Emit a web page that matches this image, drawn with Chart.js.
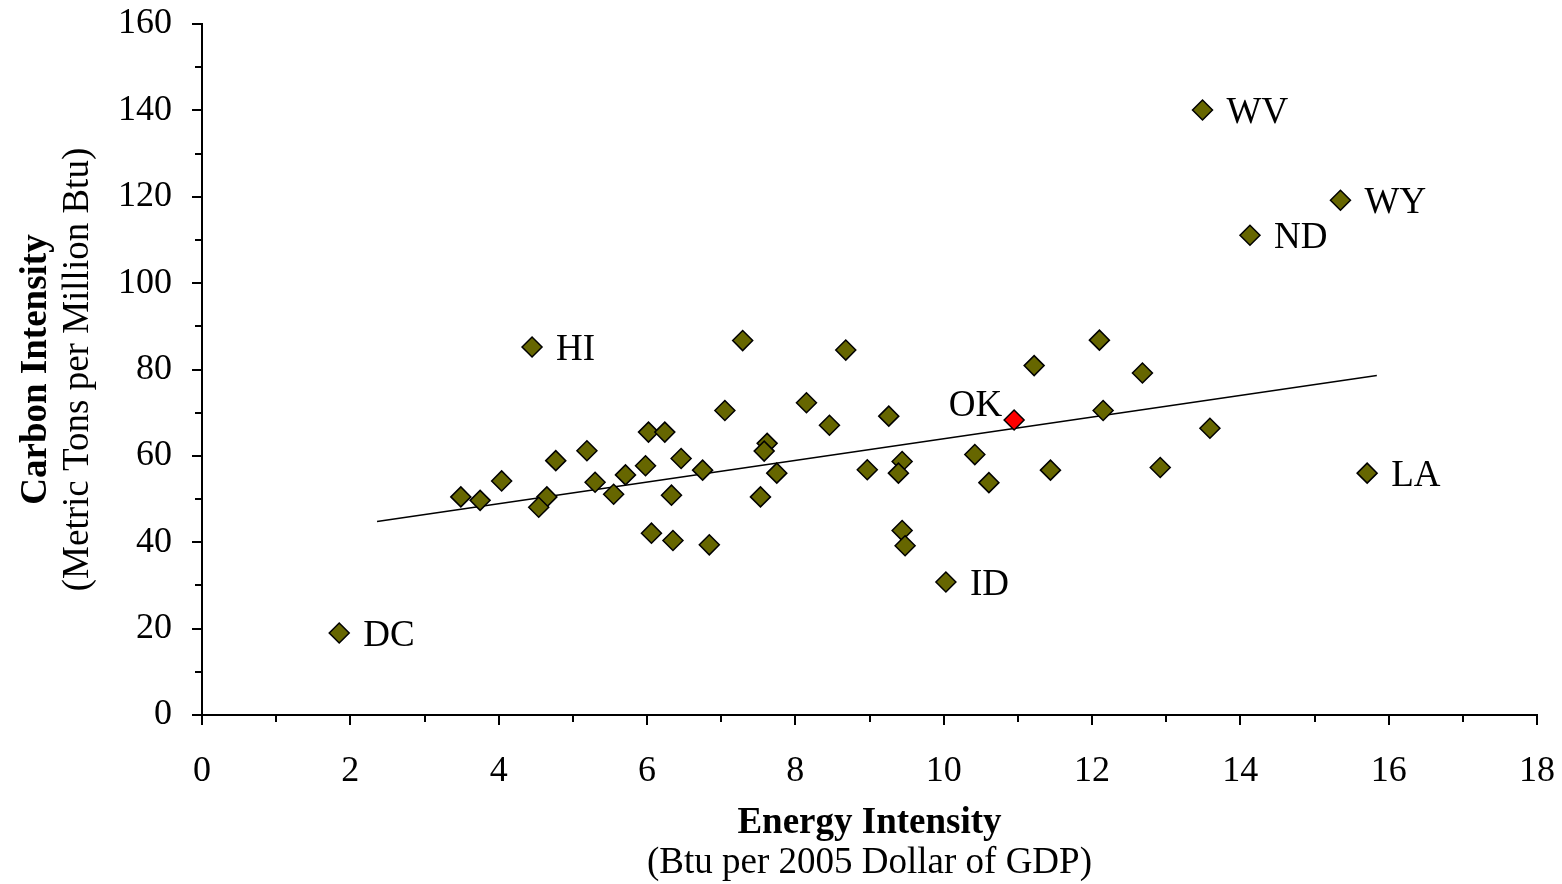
<!DOCTYPE html>
<html>
<head>
<meta charset="utf-8">
<script src="https://cdn.jsdelivr.net/npm/chart.js@4"></script>
<style>
    html, body { margin: 0; padding: 0; background: #fff; }
    #wrap { width: 1562px; height: 884px; }
</style>
</head>
<body>
<div id="wrap"><canvas id="scatter"></canvas></div>
<script>
// labelled states first, the rest are unlabelled
const STATE_NAMES = ['DC', 'HI', 'WV', 'WY', 'ND', 'LA', 'ID', 'OK']
const energyIntensity = [
    1.85, 4.45, 13.49, 15.35, 14.13, 15.71, 10.03, 10.95,
    7.29, 7.05, 8.15, 3.49, 3.75, 4.04, 4.77, 5.19, 4.65, 4.54,
    5.3, 5.55, 5.71, 6.02, 6.24, 5.98, 6.46, 6.75, 6.33, 6.06,
    6.35, 6.84, 7.62, 7.58, 7.75, 7.53, 8.68, 8.46, 9.26, 8.97,
    9.44, 9.39, 9.44, 9.48, 10.42, 10.61, 11.22, 11.44, 12.1, 12.15,
    12.68, 12.92, 13.59,
]
const carbonIntensity = [
    19.0, 85.2, 140.1, 119.2, 111.1, 56.0, 30.8, 68.3,
    86.7, 70.5, 72.3, 50.5, 49.7, 54.2, 58.9, 61.2, 50.5, 48.1,
    53.9, 51.1, 55.6, 65.5, 65.5, 57.7, 59.4, 56.7, 50.9, 42.1,
    40.4, 39.4, 62.9, 61.1, 56.0, 50.5, 84.5, 67.1, 69.2, 56.8,
    58.7, 56.0, 42.7, 39.2, 60.3, 53.8, 80.9, 56.7, 86.8, 70.5,
    79.2, 57.3, 66.4,
]
// trend line end points
const trendX = [2.36, 15.84]
const trendY = [44.8, 78.6]

const xTicks = [0, 2, 4, 6, 8, 10, 12, 14, 16, 18]
const yTicks = [0, 20, 40, 60, 80, 100, 120, 140, 160]

const FONT = "'Liberation Serif', 'Times New Roman', serif"
const OLIVE = '#666600'

const points = energyIntensity.map((x, i) => ({ x, y: carbonIntensity[i] }))
const trend = trendX.map((x, i) => ({ x, y: trendY[i] }))

// where the state label sits relative to its marker
const labelPlace = {
    OK: { dx: -12, dy: -14, align: 'right' },
}

const extrasPlugin = {
    id: 'extras',
    afterDraw(chart) {
        const ctx = chart.ctx
        const xs = chart.scales.x
        const ys = chart.scales.y
        const area = chart.chartArea
        ctx.save()
        ctx.strokeStyle = '#000'
        ctx.lineWidth = 2

        // tick marks, major and minor
        for (let v = 0; v <= 18; v++) {
            const px = Math.round(xs.getPixelForValue(v))
            const len = xTicks.includes(v) ? 10 : 7
            ctx.beginPath()
            ctx.moveTo(px, area.bottom)
            ctx.lineTo(px, area.bottom + len)
            ctx.stroke()
        }
        for (let v = 0; v <= 160; v += 10) {
            const py = Math.round(ys.getPixelForValue(v))
            const len = yTicks.includes(v) ? 10 : 7
            ctx.beginPath()
            ctx.moveTo(area.left, py)
            ctx.lineTo(area.left - len, py)
            ctx.stroke()
        }

        // state labels
        ctx.fillStyle = '#000'
        ctx.font = '37px ' + FONT
        ctx.textBaseline = 'middle'
        STATE_NAMES.forEach((name, i) => {
            const place = labelPlace[name] || { dx: 24, dy: 3, align: 'left' }
            const px = xs.getPixelForValue(energyIntensity[i])
            const py = ys.getPixelForValue(carbonIntensity[i])
            ctx.textAlign = place.align
            ctx.fillText(name, px + place.dx, py + place.dy)
        })

        // axis titles
        const cx = (area.left + area.right) / 2
        ctx.textAlign = 'center'
        ctx.textBaseline = 'alphabetic'
        ctx.font = 'bold 37px ' + FONT
        ctx.fillText('Energy Intensity', cx, 833)
        ctx.font = '37px ' + FONT
        ctx.fillText('(Btu per 2005 Dollar of GDP)', cx, 873)

        const cy = (area.top + area.bottom) / 2
        ctx.translate(0, cy)
        ctx.rotate(-Math.PI / 2)
        ctx.font = 'bold 37px ' + FONT
        ctx.fillText('Carbon Intensity', 0, 46)
        ctx.font = '37px ' + FONT
        ctx.fillText('(Metric Tons per Million Btu)', 0, 88)
        ctx.restore()
    },
}

const ctx = document.getElementById('scatter').getContext('2d')
new Chart(ctx, {
    type: 'scatter',
    data: {
        datasets: [
            {
                data: points,
                pointStyle: 'rectRot',
                pointRadius: 10,
                pointHoverRadius: 10,
                borderWidth: 1.5,
                borderColor: '#000',
                backgroundColor: (c) =>
                    STATE_NAMES[c.dataIndex] === 'OK' ? '#ff0000' : OLIVE,
                order: 1,
            },
            {
                type: 'line',
                data: trend,
                showLine: true,
                borderColor: '#000',
                borderWidth: 1.6,
                pointRadius: 0,
                fill: false,
                order: 2,
            },
        ],
    },
    options: {
        responsive: true,
        maintainAspectRatio: false,
        animation: false,
        layout: { padding: { top: 24, right: 25, bottom: 0, left: 0 } },
        plugins: {
            legend: { display: false },
            tooltip: { enabled: false },
        },
        scales: {
            x: {
                type: 'linear',
                min: 0,
                max: 18,
                afterFit: (scale) => {
                    scale.height = 169
                    scale.paddingLeft = 0
                    scale.paddingRight = 0
                },
                afterBuildTicks: (scale) => {
                    scale.ticks = xTicks.map((v) => ({ value: v }))
                },
                grid: { display: true, drawOnChartArea: false, drawTicks: false },
                border: { display: true, color: '#000', width: 2 },
                ticks: {
                    color: '#000',
                    padding: 35,
                    maxRotation: 0,
                    font: { family: FONT, size: 36 },
                },
            },
            y: {
                type: 'linear',
                min: 0,
                max: 160,
                afterFit: (scale) => {
                    scale.width = 202
                    scale.paddingTop = 0
                    scale.paddingBottom = 0
                },
                afterBuildTicks: (scale) => {
                    scale.ticks = yTicks.map((v) => ({ value: v }))
                },
                grid: { display: true, drawOnChartArea: false, drawTicks: false },
                border: { display: true, color: '#000', width: 2 },
                ticks: {
                    color: '#000',
                    padding: 30,
                    font: { family: FONT, size: 36 },
                },
            },
        },
    },
    plugins: [extrasPlugin],
})
</script>
</body>
</html>
